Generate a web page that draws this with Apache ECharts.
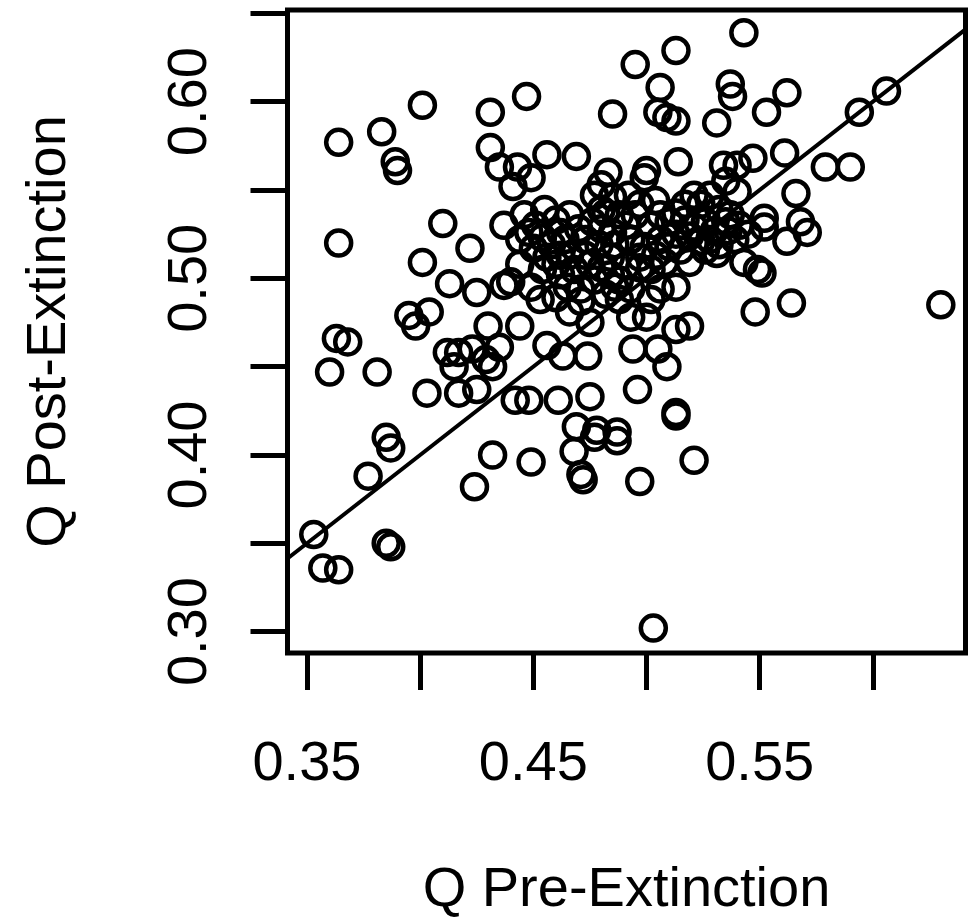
<!DOCTYPE html>
<html>
<head>
<meta charset="utf-8">
<title>Q Pre- vs Post-Extinction</title>
<script src="https://cdn.jsdelivr.net/npm/echarts@6/dist/echarts.min.js"></script>
<style>
  html, body { margin: 0; padding: 0; background: #fff; }
  #chart { width: 971px; height: 924px; }
</style>
</head>
<body>
<div id="chart"></div>
<script>
// Q values before extinction (x) and after extinction (y), one entry per point
const preExtinction = [
  0.543, 0.513, 0.495, 0.506, 0.537, 0.538, 0.606, 0.594, 0.562, 0.553,
  0.447, 0.401, 0.485, 0.505, 0.509, 0.513, 0.531, 0.431, 0.383, 0.364,
  0.431, 0.456, 0.469, 0.435, 0.441, 0.389, 0.390, 0.449, 0.443, 0.483,
  0.480, 0.477, 0.500, 0.499, 0.514, 0.534, 0.561, 0.547, 0.540, 0.579,
  0.590, 0.566, 0.540, 0.552, 0.568,
  0.410, 0.437, 0.364, 0.422, 0.401, 0.413, 0.425, 0.437, 0.395, 0.404,
  0.398, 0.363, 0.368, 0.360, 0.381, 0.403, 0.417, 0.425, 0.430, 0.412,
  0.417, 0.423, 0.429, 0.432, 0.415, 0.435, 0.442, 0.385,
  0.387, 0.377, 0.353, 0.357, 0.364, 0.385, 0.387, 0.432, 0.424,
  0.449, 0.468, 0.471, 0.472, 0.487, 0.477, 0.497, 0.521, 0.503,
  0.513, 0.519, 0.513, 0.444, 0.456, 0.463, 0.474, 0.494, 0.505,
  0.509, 0.496, 0.513, 0.513, 0.448, 0.461, 0.475, 0.469, 0.478, 0.487,
  0.531, 0.500, 0.493, 0.475, 0.466, 0.449, 0.440,
  0.552, 0.562, 0.571, 0.543, 0.549, 0.551, 0.548, 0.564, 0.630,
  0.446, 0.448, 0.454, 0.462, 0.455, 0.450, 0.456, 0.462, 0.454, 0.444,
  0.470, 0.476, 0.482, 0.485, 0.479, 0.484, 0.491, 0.477, 0.471, 0.482,
  0.488, 0.492, 0.497, 0.502, 0.506, 0.510, 0.513, 0.517, 0.519, 0.524,
  0.526, 0.530, 0.532, 0.536, 0.539, 0.545, 0.524, 0.515, 0.510, 0.499,
  0.497, 0.493, 0.488, 0.480, 0.497, 0.506, 0.486, 0.460, 0.465, 0.453,
  0.471, 0.468, 0.473, 0.462, 0.502, 0.508, 0.519, 0.526, 0.532, 0.466,
  0.460, 0.488, 0.485, 0.504, 0.521, 0.528, 0.537, 0.535,
  0.451, 0.458, 0.464, 0.473, 0.480, 0.486, 0.491, 0.495, 0.504, 0.513,
  0.521, 0.528, 0.535, 0.541, 0.460, 0.475, 0.484, 0.493, 0.502, 0.466,
  0.444, 0.480, 0.506, 0.517
]
const postExtinction = [
  0.639, 0.629, 0.621, 0.608, 0.610, 0.603, 0.606, 0.594, 0.605, 0.594,
  0.603, 0.598, 0.593, 0.594, 0.591, 0.589, 0.588, 0.594, 0.583, 0.577,
  0.574, 0.570, 0.569, 0.563, 0.552, 0.566, 0.561, 0.557, 0.563, 0.560,
  0.553, 0.547, 0.561, 0.557, 0.566, 0.564, 0.571, 0.568, 0.564, 0.563,
  0.563, 0.548, 0.549, 0.534, 0.532,
  0.531, 0.530, 0.520, 0.517, 0.509, 0.497, 0.492, 0.496, 0.479, 0.481,
  0.473, 0.466, 0.464, 0.447, 0.447, 0.435, 0.435, 0.437, 0.473, 0.458,
  0.458, 0.460, 0.454, 0.450, 0.450, 0.461, 0.431, 0.410,
  0.404, 0.388, 0.355, 0.336, 0.335, 0.350, 0.348, 0.400, 0.382,
  0.396, 0.402, 0.389, 0.386, 0.408, 0.410, 0.385, 0.397, 0.302,
  0.495, 0.473, 0.471, 0.473, 0.462, 0.456, 0.456, 0.460, 0.460,
  0.450, 0.437, 0.424, 0.422, 0.431, 0.431, 0.433, 0.416, 0.414, 0.413,
  0.514, 0.478, 0.478, 0.475, 0.481, 0.495, 0.498,
  0.529, 0.521, 0.526, 0.509, 0.505, 0.503, 0.481, 0.486, 0.485,
  0.536, 0.526, 0.523, 0.526, 0.539, 0.517, 0.512, 0.513, 0.505, 0.508,
  0.528, 0.532, 0.537, 0.526, 0.519, 0.512, 0.507, 0.499, 0.494, 0.491,
  0.488, 0.547, 0.542, 0.530, 0.522, 0.532, 0.537, 0.533, 0.524, 0.542,
  0.532, 0.527, 0.539, 0.527, 0.522, 0.525, 0.521, 0.516, 0.518, 0.518,
  0.512, 0.522, 0.499, 0.506, 0.506, 0.494, 0.495, 0.489, 0.495, 0.488,
  0.487, 0.505, 0.513, 0.502, 0.505, 0.509, 0.509, 0.516, 0.519, 0.536,
  0.533, 0.536, 0.546, 0.544, 0.547, 0.547, 0.536, 0.555,
  0.530, 0.519, 0.522, 0.522, 0.528, 0.519, 0.530, 0.536, 0.513, 0.525,
  0.529, 0.522, 0.532, 0.530, 0.508, 0.508, 0.502, 0.494, 0.488, 0.513,
  0.522, 0.539, 0.536, 0.542
]

// axis ranges (R style, 4% padding around the data) and tick marks
const xRange = [0.3414, 0.6409]
const yRange = [0.2879, 0.6519]
const xTicks = [0.35, 0.40, 0.45, 0.50, 0.55, 0.60]
const xTickLabels = [0.35, 0.45, 0.55]
const yTicks = [0.30, 0.35, 0.40, 0.45, 0.50, 0.55, 0.60, 0.65]
const yTickLabels = [0.30, 0.40, 0.50, 0.60]

// y = x reference line across the plotting region
const identityLine = [0.3414, 0.6409]

const font = 'Liberation Sans, Arial, sans-serif'
const chart = echarts.init(document.getElementById('chart'))

const option = {
  animation: false,
  backgroundColor: '#fff',
  grid: {
    left: 287.5,
    right: 5.5,
    top: 10,
    bottom: 271,
    show: true,
    borderColor: '#000',
    borderWidth: 5,
    backgroundColor: 'transparent'
  },
  xAxis: {
    type: 'value',
    min: xRange[0],
    max: xRange[1],
    name: 'Q Pre-Extinction',
    nameLocation: 'middle',
    nameGap: 210,
    nameTextStyle: { color: '#000', fontSize: 56, fontFamily: font },
    axisLine: { show: false },
    splitLine: { show: false },
    axisTick: {
      show: true,
      length: 37,
      customValues: xTicks,
      lineStyle: { color: '#000', width: 5 }
    },
    axisLabel: {
      customValues: xTickLabels,
      margin: 84,
      color: '#000',
      fontSize: 56,
      fontFamily: font,
      formatter: (v) => v.toFixed(2)
    }
  },
  yAxis: {
    type: 'value',
    min: yRange[0],
    max: yRange[1],
    name: 'Q Post-Extinction',
    nameLocation: 'middle',
    nameGap: 210,
    nameTextStyle: { color: '#000', fontSize: 56, fontFamily: font },
    axisLine: { show: false },
    splitLine: { show: false },
    axisTick: {
      show: true,
      length: 37,
      customValues: yTicks,
      lineStyle: { color: '#000', width: 5 }
    },
    axisLabel: {
      customValues: yTickLabels,
      rotate: 90,
      margin: 69,
      color: '#000',
      fontSize: 56,
      fontFamily: font,
      formatter: (v) => v.toFixed(2)
    }
  },
  series: [
    {
      type: 'scatter',
      data: preExtinction.map((x, i) => [x, postExtinction[i]]),
      symbol: 'circle',
      symbolSize: 25,
      itemStyle: {
        color: 'rgba(0,0,0,0)',
        borderColor: '#000',
        borderWidth: 4.5,
        opacity: 1
      },
      emphasis: { disabled: true }
    },
    {
      type: 'line',
      data: identityLine.map((v) => [v, v]),
      symbol: 'none',
      lineStyle: { color: '#000', width: 4 },
      emphasis: { disabled: true },
      z: 3
    }
  ]
}

chart.setOption(option)
</script>
</body>
</html>
